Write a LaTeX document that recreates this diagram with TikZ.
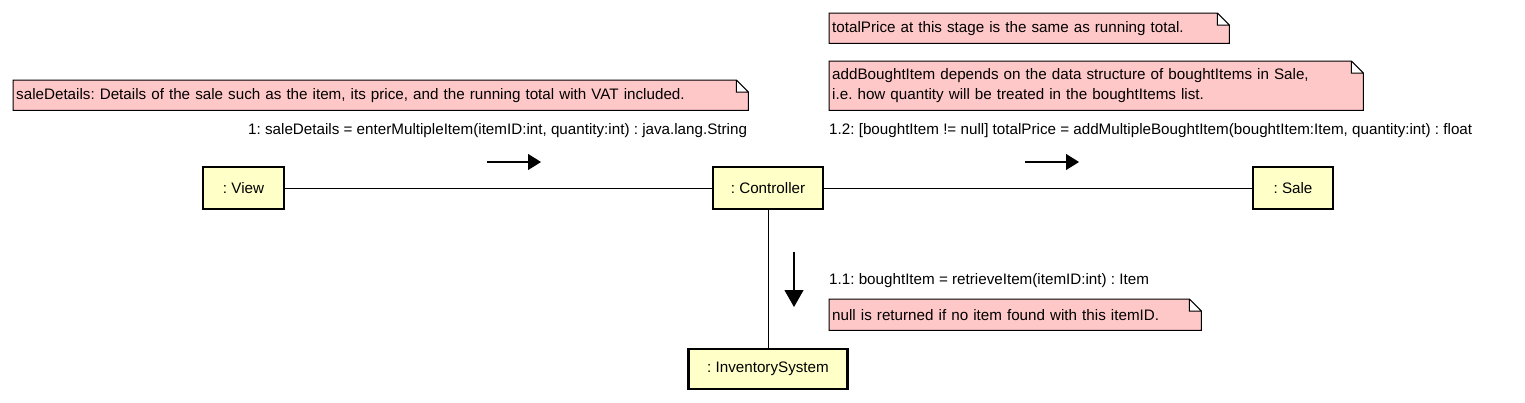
\documentclass[tikz,border=0pt]{standalone}
\usepackage{fontspec}
\setmainfont{Liberation Sans}
\usetikzlibrary{arrows.meta, backgrounds}
\definecolor{notepink}{RGB}{255,200,200}
\definecolor{objyellow}{RGB}{255,255,200}
\frenchspacing
\tikzset{
  every node/.style={font=\fontsize{15.2}{20.5}\selectfont},
  objbox/.style={draw, line width=2.8pt, fill=objyellow, minimum height=42pt, inner sep=0pt},
  notebox/.style={anchor=north west, inner xsep=3pt, inner ysep=0pt, align=left},
  msglabel/.style={anchor=west, inner sep=0pt},
  link/.style={line width=1pt},
  msgarrow/.style={line width=1.2pt, -{Triangle[length=13pt,width=16pt]}}
}

\begin{document}
\begin{tikzpicture}[x=1pt, y=-1pt]
  \useasboundingbox (0,0) rectangle (1525,402);

  % objects
  \node [objbox, minimum width=81pt] (view) at (243.5,188) {: View};
  \node [objbox, minimum width=110pt] (ctrl) at (768,188) {: Controller};
  \node [objbox, minimum width=80pt] (sale) at (1293,188) {: Sale};
  \node [objbox, minimum width=159pt, minimum height=40pt] (inv) at (768,369) {: InventorySystem};

  % links
  \draw [link] (view) -- (ctrl);
  \draw [link] (ctrl) -- (sale);
  \draw [link] (ctrl) -- (inv);

  % messages
  \coordinate (m1a) at (487,162);
  \coordinate (m1b) at (541,162);
  \coordinate (m2a) at (1025,162);
  \coordinate (m2b) at (1079,162);
  \coordinate (m3a) at (794,252);
  \coordinate (m3b) at (794,307);
  \draw [msgarrow] (m1a) -- (m1b);
  \draw [msgarrow] (m2a) -- (m2b);
  \draw [msgarrow, -{Triangle[length=17pt,width=19pt]}] (m3a) -- (m3b);

  \node [msglabel] (lbl1) at (248,130.5)
    {1: saleDetails = enterMultipleItem(itemID:int, quantity:int) : java.lang.String};
  \node [msglabel] (lbl12) at (829,130.5)
    {1.2: [boughtItem != null] totalPrice = addMultipleBoughtItem(boughtItem:Item, quantity:int) : float};
  \node [msglabel] (lbl11) at (829,280.5)
    {1.1: boughtItem = retrieveItem(itemID:int) : Item};

  % notes
  \node [notebox, text width=729pt, minimum height=30pt] (noteSale) at (13,80)
    {saleDetails: Details of the sale such as the item, its price, and the running total with VAT included.};
  \node [notebox, text width=394pt, minimum height=30pt] (notePrice) at (829,13)
    {totalPrice at this stage is the same as running total.};
  \node [notebox, text width=528pt, minimum height=49pt] (noteAdd) at (829,61)
    {addBoughtItem depends on the data structure of boughtItems in Sale,\\
     i.e. how quantity will be treated in the boughtItems list.};
  \node [notebox, text width=366pt, minimum height=31pt] (noteNull) at (829,299)
    {null is returned if no item found with this itemID.};

  \begin{scope}[on background layer]
    \foreach \n in {noteSale, notePrice, noteAdd, noteNull}
      \filldraw [fill=notepink, line width=1pt]
        (\n.north west) -- ([xshift=-12pt]\n.north east) -- ([yshift=-12pt]\n.north east)
        -- (\n.south east) -- (\n.south west) -- cycle
        ([xshift=-12pt]\n.north east) -- ([xshift=-12pt,yshift=-12pt]\n.north east)
        -- ([yshift=-12pt]\n.north east);
  \end{scope}
\end{tikzpicture}
\end{document}
